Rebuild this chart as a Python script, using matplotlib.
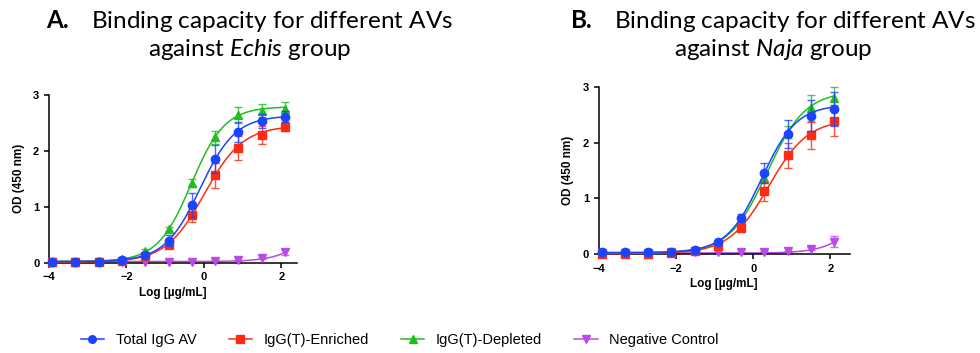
import numpy as np
import matplotlib
matplotlib.use('Agg')
import matplotlib.pyplot as plt
from matplotlib.lines import Line2D

# Log concentration of each dilution (4-fold series from 125 ug/mL)
log_conc = [-3.92, -3.32, -2.72, -2.12, -1.51, -0.91, -0.31, 0.29, 0.89, 1.50, 2.10]

# Panel A - Echis group (mean OD and error)
a_total = [0.02, 0.02, 0.02, 0.05, 0.13, 0.39, 1.03, 1.85, 2.34, 2.53, 2.61]
a_total_err = [0.01, 0.01, 0.01, 0.01, 0.03, 0.10, 0.22, 0.25, 0.18, 0.13, 0.10]
a_enriched = [0.01, 0.01, 0.01, 0.03, 0.11, 0.32, 0.85, 1.56, 2.05, 2.28, 2.43]
a_enriched_err = [0.01, 0.01, 0.01, 0.01, 0.02, 0.05, 0.13, 0.22, 0.21, 0.16, 0.08]
a_depleted = [0.02, 0.02, 0.03, 0.06, 0.21, 0.60, 1.43, 2.24, 2.64, 2.72, 2.75]
a_depleted_err = [0.01, 0.01, 0.01, 0.01, 0.03, 0.04, 0.07, 0.11, 0.15, 0.12, 0.12]
a_negative = [0.01, 0.01, 0.01, 0.02, 0.02, 0.02, 0.02, 0.03, 0.04, 0.08, 0.19]
a_negative_err = [0, 0, 0, 0, 0, 0, 0, 0.01, 0.01, 0.02, 0.06]

# Panel B - Naja group
b_total = [0.03, 0.03, 0.03, 0.04, 0.08, 0.22, 0.65, 1.45, 2.16, 2.48, 2.60]
b_total_err = [0.01, 0.01, 0.01, 0.01, 0.02, 0.03, 0.07, 0.18, 0.25, 0.28, 0.30]
b_enriched = [0.01, 0.01, 0.01, 0.02, 0.06, 0.15, 0.47, 1.13, 1.77, 2.13, 2.39]
b_enriched_err = [0, 0, 0, 0.01, 0.01, 0.02, 0.04, 0.17, 0.23, 0.24, 0.28]
b_depleted = [0.02, 0.02, 0.02, 0.03, 0.07, 0.19, 0.61, 1.36, 2.19, 2.62, 2.80]
b_depleted_err = [0.01, 0.01, 0.01, 0.01, 0.01, 0.02, 0.05, 0.08, 0.10, 0.24, 0.20]
b_negative = [0.02, 0.02, 0.02, 0.03, 0.03, 0.03, 0.03, 0.04, 0.05, 0.10, 0.22]
b_negative_err = [0, 0, 0, 0, 0, 0, 0, 0.01, 0.01, 0.02, 0.10]

# Fitted 4PL curves: bottom, top, logEC50, hill slope
a_fits = {
    'total': (0.02, 2.63, -0.10, 0.95),
    'enriched': (0.01, 2.45, 0.01, 0.87),
    'depleted': (0.02, 2.79, -0.33, 1.00),
    'negative': (0.02, 1.00, 2.80, 1.00),
}
b_fits = {
    'total': (0.03, 2.68, 0.22, 0.96),
    'enriched': (0.01, 2.42, 0.40, 0.85),
    'depleted': (0.02, 2.92, 0.365, 0.88),
    'negative': (0.02, 1.00, 2.70, 1.00),
}

series_labels = ['Total IgG AV', 'IgG(T)-Enriched', 'IgG(T)-Depleted', 'Negative Control']
series_keys = ['total', 'enriched', 'depleted', 'negative']
colors = {'total': '#1a44ff', 'enriched': '#ff2a12', 'depleted': '#1fbf1f', 'negative': '#b94ae8'}
markers = {'total': 'o', 'enriched': 's', 'depleted': '^', 'negative': 'v'}

plt.rcParams['font.family'] = ['Liberation Sans', 'DejaVu Sans']
plt.rcParams['mathtext.fontset'] = 'custom'
plt.rcParams['mathtext.rm'] = 'Lato'
plt.rcParams['mathtext.bf'] = 'Lato:bold'
plt.rcParams['mathtext.it'] = 'Lato:italic'


def four_pl(x, bottom, top, ec50, hill):
    return bottom + (top - bottom) / (1 + 10 ** ((ec50 - x) * hill))


def draw_panel(ax, values, errors, fits, xmax):
    x = np.array(log_conc)
    xs = np.linspace(x.min(), x.max(), 200)
    # draw negative first so the total IgG ends on top
    for z, key in enumerate(['negative', 'depleted', 'enriched', 'total']):
        c = colors[key]
        ax.errorbar(x, values[key], yerr=errors[key], fmt='none', ecolor=c,
                    elinewidth=1.0, capsize=3.2, capthick=1.0, alpha=0.8,
                    zorder=2 + z, clip_on=False)
        ax.plot(xs, four_pl(xs, *fits[key]), color=c, lw=1.1, zorder=2 + z, clip_on=False)
        ax.plot(x, values[key], linestyle='none', marker=markers[key], color=c,
                markersize=6, zorder=3 + z, clip_on=False)

    ax.set_xlim(-4, xmax)
    ax.set_ylim(0, 3)
    ax.set_xticks([-4, -2, 0, 2])
    ax.set_yticks([0, 1, 2, 3])
    for side in ['top', 'right']:
        ax.spines[side].set_visible(False)
    for side in ['left', 'bottom']:
        ax.spines[side].set_linewidth(1.1)
    ax.tick_params(width=1.1, length=3.5, labelsize=8)
    for lab in ax.get_xticklabels() + ax.get_yticklabels():
        lab.set_fontweight('bold')
    ax.set_xlabel('Log [µg/mL]', fontsize=8.5, fontweight='bold', labelpad=3)
    ax.set_ylabel('OD (450 nm)', fontsize=8.5, fontweight='bold', labelpad=6)


fig = plt.figure(figsize=(9.8, 3.53), dpi=100)
ax_a = fig.add_axes([0.050, 0.256, 0.253, 0.475])
ax_b = fig.add_axes([0.611, 0.280, 0.256, 0.474])

draw_panel(ax_a,
           {'total': a_total, 'enriched': a_enriched, 'depleted': a_depleted, 'negative': a_negative},
           {'total': a_total_err, 'enriched': a_enriched_err, 'depleted': a_depleted_err, 'negative': a_negative_err},
           a_fits, 2.4)
draw_panel(ax_b,
           {'total': b_total, 'enriched': b_enriched, 'depleted': b_depleted, 'negative': b_negative},
           {'total': b_total_err, 'enriched': b_enriched_err, 'depleted': b_depleted_err, 'negative': b_negative_err},
           b_fits, 2.5)

# Titles
fig.text(0.255, 0.978, r'$\mathbf{A.}$   Binding capacity for different AVs' + '\n' + r'against $\mathit{Echis}$ group',
         ha='center', va='top', fontsize=17.5, family='Lato', linespacing=1.15)
fig.text(0.789, 0.978, r'$\mathbf{B.}$   Binding capacity for different AVs' + '\n' + r'against $\mathit{Naja}$ group',
         ha='center', va='top', fontsize=17.5, family='Lato', linespacing=1.15)

# Shared legend at the bottom
handles = [Line2D([0], [0], color=colors[k], marker=markers[k], markersize=5.5, lw=1.1)
           for k in series_keys]
fig.legend(handles, series_labels, loc='center', bbox_to_anchor=(0.408, 0.037), ncol=4,
           frameon=False, fontsize=10.5, handlelength=1.6, handletextpad=0.8, columnspacing=2.2)

plt.savefig('out.png', dpi=100)
